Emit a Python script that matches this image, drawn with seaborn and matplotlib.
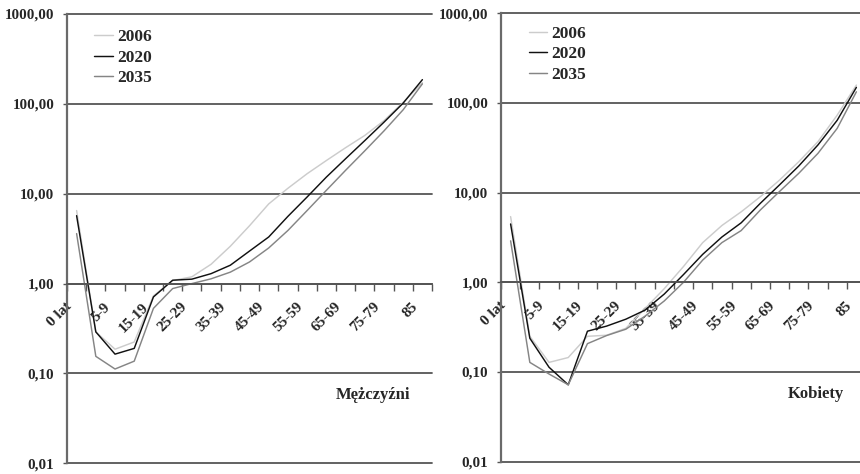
import numpy as np
import pandas as pd
import matplotlib
matplotlib.use("Agg")
import matplotlib.pyplot as plt
import matplotlib.transforms as mtransforms
from matplotlib.ticker import FixedLocator, NullLocator, FixedFormatter, NullFormatter
import seaborn as sns

# ---------------- data ----------------
age_groups = ["0 lat", "1-4", "5-9", "10-14", "15-19", "20-24", "25-29", "30-34",
              "35-39", "40-44", "45-49", "50-54", "55-59", "60-64", "65-69",
              "70-74", "75-79", "80-84", "85"]
years = ["2006", "2020", "2035"]

men_2006 = [6.5, 0.29, 0.186, 0.224, 0.73, 1.08, 1.19, 1.64, 2.6, 4.4, 7.7,
            11.5, 16.7, 23.4, 32.5, 44.5, 65.0, 104.0, 172.0]
men_2020 = [5.7, 0.29, 0.164, 0.19, 0.71, 1.09, 1.12, 1.29, 1.6, 2.3, 3.3,
            5.6, 9.2, 15.3, 24.5, 39.0, 62.5, 102.0, 186.0]
men_2035 = [3.6, 0.155, 0.112, 0.137, 0.53, 0.88, 1.0, 1.13, 1.34, 1.74, 2.49,
            3.9, 6.5, 10.9, 18.2, 30.0, 50.0, 86.0, 167.0]

women_2006 = [5.4, 0.25, 0.128, 0.145, 0.25, 0.257, 0.307, 0.51, 0.85, 1.5, 2.77,
              4.3, 6.1, 9.0, 13.8, 22.1, 37.0, 73.0, 158.0]
women_2020 = [4.47, 0.238, 0.113, 0.072, 0.285, 0.325, 0.388, 0.49, 0.74, 1.22, 2.05,
              3.2, 4.6, 7.6, 12.2, 19.8, 34.0, 64.0, 149.0]
women_2035 = [2.9, 0.128, 0.095, 0.072, 0.207, 0.255, 0.3, 0.42, 0.62, 1.0, 1.77,
              2.77, 3.77, 6.4, 10.3, 16.4, 27.4, 52.0, 133.0]

y_ticks = [0.01, 0.1, 1, 10, 100, 1000]
y_tick_labels = ["0,01", "0,10", "1,00", "10,00", "100,00", "1000,00"]
panel_titles = ["Mężczyźni", "Kobiety"]

# ---------------- styling ----------------
sns.set_style("white")
plt.rcParams["font.family"] = ["Liberation Serif", "DejaVu Serif"]
plt.rcParams["font.weight"] = "bold"

palette = {"2006": "#cccccc", "2020": "#111111", "2035": "#858585"}
grid_color = "#555555"

fig = plt.figure(figsize=(8.6, 4.74), dpi=100)
W, H = 860.0, 474.0


def make_df(series):
    rows = []
    for yr, vals in zip(years, series):
        for i, v in enumerate(vals):
            rows.append({"pos": i, "age": age_groups[i], "year": yr, "value": v})
    return pd.DataFrame(rows)


panels = [
    dict(data=[men_2006, men_2020, men_2035], x0=67, top=14.0, bottom=463.3,
         leg=(0.075, 0.966)),
    dict(data=[women_2006, women_2020, women_2035], x0=501, top=13.2, bottom=461.7,
         leg=(0.077, 0.972)),
]

n = len(age_groups)
for k, p in enumerate(panels):
    ax = fig.add_axes([p["x0"] / W, (H - p["bottom"]) / H, 365 / W,
                       (p["bottom"] - p["top"]) / H])
    df = make_df(p["data"])
    sns.lineplot(data=df, x="pos", y="value", hue="year", hue_order=years,
                 palette=palette, linewidth=1.05, sort=False, errorbar=None,
                 estimator=None, ax=ax)
    ax.set_yscale("log")
    ax.set_ylim(0.01, 1000)
    ax.set_xlim(-0.5, n - 0.5)
    ax.set_xlabel("")
    ax.set_ylabel("")

    # horizontal grid lines at decades
    for yv in y_ticks:
        ax.axhline(yv, color=grid_color, lw=1.3, clip_on=False, zorder=1)

    # spines
    for s in ["top", "right"]:
        ax.spines[s].set_visible(False)
    ax.spines["left"].set_color("#6a6a6a")
    ax.spines["left"].set_linewidth(1.6)
    ax.spines["bottom"].set_position(("data", 1))
    ax.spines["bottom"].set_color(grid_color)
    ax.spines["bottom"].set_linewidth(1.3)

    # y ticks
    ax.yaxis.set_major_locator(FixedLocator(y_ticks))
    ax.yaxis.set_major_formatter(FixedFormatter(y_tick_labels))
    ax.yaxis.set_minor_locator(NullLocator())
    ax.tick_params(axis="y", which="major", direction="out", length=3,
                   color=grid_color, width=1.0, pad=6, labelsize=10.8,
                   left=True, labelleft=True)

    # x ticks: marks at category boundaries, labels every other category
    ax.xaxis.set_major_locator(FixedLocator(np.arange(-0.5, n, 1.0)))
    ax.xaxis.set_major_formatter(NullFormatter())
    lab_pos = list(range(0, n, 2))
    ax.xaxis.set_minor_locator(FixedLocator(lab_pos))
    ax.xaxis.set_minor_formatter(FixedFormatter([age_groups[i] for i in lab_pos]))
    ax.tick_params(axis="x", which="major", direction="out", length=5,
                   color=grid_color, width=1.0, bottom=True)
    ax.tick_params(axis="x", which="minor", length=0, pad=12, labelsize=11,
                   bottom=True, labelbottom=True)
    offset = mtransforms.ScaledTranslation(-2 / 100, 0, fig.dpi_scale_trans)
    for lbl in ax.xaxis.get_minorticklabels():
        lbl.set_rotation(45)
        lbl.set_ha("right")
        lbl.set_va("top")
        lbl.set_transform(lbl.get_transform() + offset)

    # legend
    leg = ax.get_legend()
    handles = leg.legend_handles
    labels = [t.get_text() for t in leg.get_texts()]
    leg.remove()
    ax.legend(handles, labels, loc="upper left", bbox_to_anchor=p["leg"],
              frameon=False, borderaxespad=0, borderpad=0, handlelength=1.05,
              handletextpad=0.25, labelspacing=0.25,
              prop={"family": "Liberation Serif", "weight": "bold", "size": 12.5})

    ax.text(0.94, 0.152, panel_titles[k], transform=ax.transAxes,
            ha="right", va="center", fontsize=12, fontweight="bold")

fig.savefig("out.png", dpi=100)
